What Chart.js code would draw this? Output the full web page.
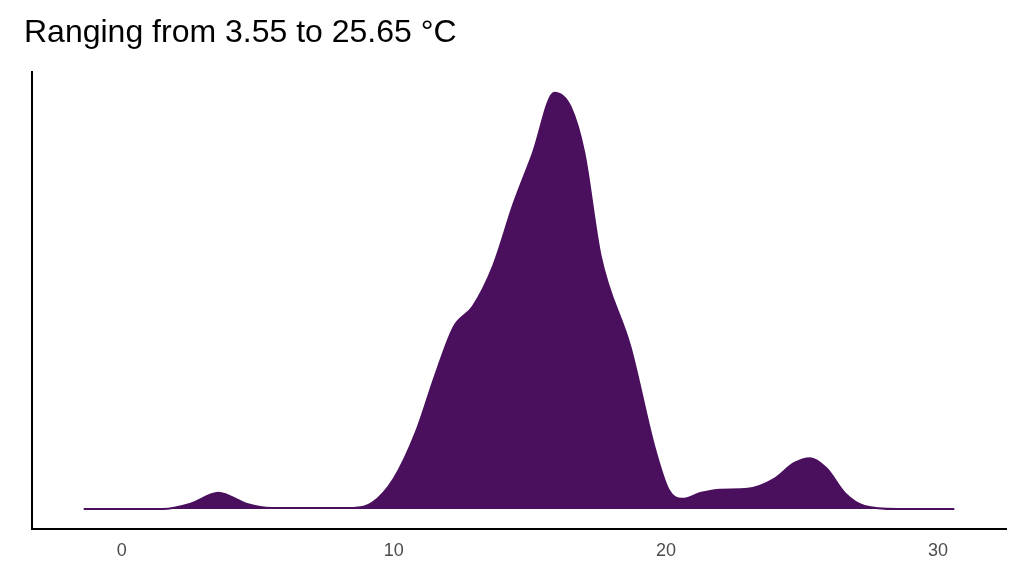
<!DOCTYPE html>
<html><head><meta charset="utf-8">
<script src="https://cdn.jsdelivr.net/npm/chart.js@4"></script>
<style>body{margin:0;background:#fff}#wrap{width:1024px;height:576px}</style>
</head><body><div id="wrap"><canvas id="c"></canvas></div>
<script>
// temperature (°C) and density height (relative units)
const temps = [-1.4, 1.5, 2.5, 3.55, 4.6, 5.5, 8.5, 9.2, 10, 10.8, 11.5, 12.2, 12.9, 13.65, 14.4, 15.1, 15.9, 16.5, 17, 17.6, 18.7, 19.6, 20.1, 20.6, 21.3, 22, 23, 24, 24.7, 25.3, 25.9, 26.6, 27.3, 28.5, 30.6];
const density = [0, 0, 5, 16, 5, 1, 1, 6, 30, 75, 130, 179, 199, 239, 300, 349, 409, 395, 350, 249, 159, 59, 19, 10, 16, 19, 20, 30, 45, 50, 40, 15, 3, 0, 0];
const xTicks = [0, 10, 20, 30];

const pts = temps.map((t, i) => ({x: t, y: density[i]}));
new Chart(document.getElementById('c'), {
  type: 'line',
  data: {datasets: [{data: pts, fill: 'origin', backgroundColor: '#4a105e', borderColor: '#4a105e',
    borderWidth: 2, pointRadius: 0, tension: 0.4, cubicInterpolationMode: 'monotone'}]},
  options: {
    responsive: true, maintainAspectRatio: false, animation: false,
    layout: {padding: {left: 24, right: 18, top: 10, bottom: 10}},
    plugins: {legend: {display: false}, tooltip: {enabled: false},
      title: {display: true, text: 'Ranging from 3.55 to 25.65 °C', align: 'start', color: '#000',
        font: {family: 'Liberation Sans', size: 32, weight: 'normal'}, padding: {top: 4, bottom: 20}}},
    scales: {
      x: {type: 'linear', min: -3.3, max: 32.5,
        afterBuildTicks: s => { s.ticks = xTicks.map(v => ({value: v})); },
        grid: {display: false, drawTicks: true, tickLength: 7, tickColor: '#333'},
        border: {display: true, color: '#000', width: 2},
        ticks: {color: '#4d4d4d', font: {family: 'Liberation Sans', size: 18}, padding: 4}},
      y: {min: -20, max: 429, grid: {display: false}, ticks: {display: false},
        border: {display: true, color: '#000', width: 2}}
    }
  }
});
</script></body></html>
